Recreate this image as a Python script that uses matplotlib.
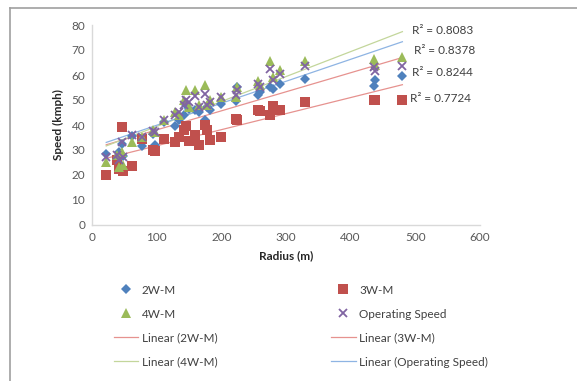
import numpy as np
import matplotlib
matplotlib.use("Agg")
import matplotlib.pyplot as plt
from matplotlib.lines import Line2D

plt.rcParams['font.family'] = ['Lato', 'DejaVu Sans']

radius = [22, 38, 42, 46, 48, 62, 78, 95, 98, 112, 128, 135, 142, 146, 150, 160,
          165, 175, 178, 182, 200, 222, 224, 257, 260, 276, 280, 290, 329, 436, 438, 480]
speed_2w = [28.5, 27, 29, 32.5, 27.5, 35.5, 31.5, 36.5, 32, 41, 39.5, 42, 44, 48, 46.5, 46,
            45, 42, 47, 46, 48.5, 49.5, 55, 52, 53, 55, 54.5, 56.5, 58.5, 55.5, 58, 59.5]
speed_3w = [20, 26, 22.5, 39, 21.5, 23.5, 34.5, 30, 29.5, 34.5, 33, 35, 38, 39.5, 33.5, 36,
            32, 40, 38, 34, 35, 42.5, 42, 46, 45.5, 44, 47.5, 46, 49, 50, 50, 50]
speed_4w = [25, 28, 23, 29, 24, 33, 35, 38, 37, 42, 45, 44, 50, 54, 47, 54,
            48, 56, 48, 50, 51, 51, 55, 57.5, 56, 65.5, 59, 62, 65.5, 66.5, 64, 67]
speed_op = [27, 28, 26, 33, 27, 36, 35, 37.5, 37, 42, 44, 45, 48, 50, 49, 51.5,
            47, 52.5, 48, 49, 51, 52, 54, 56.5, 55, 62.5, 58, 60.5, 63.5, 63, 61.5, 63.5]
r2_labels = ["R² = 0.8083", "R² = 0.8378", "R² = 0.8244", "R² = 0.7724"]
x_ticks = [0, 100, 200, 300, 400, 500, 600]
y_ticks = [0, 10, 20, 30, 40, 50, 60, 70, 80]

W, H = 577, 381
FS = 8.5
fig = plt.figure(figsize=(W / 100, H / 100), dpi=100)
ax = fig.add_axes([92 / W, 1 - 225 / H, (480 - 92) / W, (225 - 25) / H])

r = np.array(radius, dtype=float)
blue, red, green, purple = '#4F81BD', '#C0504D', '#9BBB59', '#8064A2'

h2, = ax.plot(r, speed_2w, 'D', color=blue, ms=5.5, mew=0, label='2W-M', zorder=3)
h3, = ax.plot(r, speed_3w, 's', color=red, ms=7, mew=0, label='3W-M', zorder=3)
h4, = ax.plot(r, speed_4w, '^', color=green, ms=7, mew=0, label='4W-M', zorder=3)
ho, = ax.plot(r, speed_op, 'x', color=purple, ms=6, mew=1.3, label='Operating Speed', zorder=4)

xs = np.array([r.min(), r.max()])
trend = []
for ys, col, lab in [(speed_2w, '#E6928F', 'Linear (2W-M)'),
                     (speed_3w, '#E6928F', 'Linear (3W-M)'),
                     (speed_4w, '#C3D69B', 'Linear (4W-M)'),
                     (speed_op, '#8EB4E3', 'Linear (Operating Speed)')]:
    m, b = np.polyfit(r, ys, 1)
    ln, = ax.plot(xs, m * xs + b, '-', color=col, lw=0.9, label=lab, zorder=2)
    trend.append(ln)

ax.set_xlim(0, 600)
ax.set_ylim(0, 80)
ax.set_xticks(x_ticks)
ax.set_yticks(y_ticks)
ax.tick_params(length=0, labelsize=FS, labelcolor='#595959', pad=5)
for s in ['top', 'right']:
    ax.spines[s].set_visible(False)
for s in ['left', 'bottom']:
    ax.spines[s].set_color('#D9D9D9')
    ax.spines[s].set_linewidth(1)

ax.set_xlabel('Radius (m)', fontsize=FS, fontweight='bold', color='#262626', labelpad=5)
ax.set_ylabel('Speed (kmph)', fontsize=FS, fontweight='bold', color='#262626', labelpad=5)

label_pos = [(412, 30), (414, 50), (412, 73), (410, 98)]
for (px, py), txt in zip(label_pos, r2_labels):
    fig.text(px / W, 1 - py / H, txt, fontsize=FS, color='#404040', va='center', ha='left')

handles = [h2, h4, trend[0], trend[2], h3, ho, trend[1], trend[3]]
leg = fig.legend(handles=handles, labels=[h.get_label() for h in handles], ncol=2,
                 loc='upper left', bbox_to_anchor=(103 / W, 1 - 274 / H),
                 frameon=False, fontsize=FS, labelspacing=1.1,
                 columnspacing=9.6, handlelength=2.1, handletextpad=0.3)
for t in leg.get_texts():
    t.set_color('#404040')

fig.add_artist(Line2D([10 / W, 10 / W], [0, 1 - 8 / H], color='#A0A0A0', lw=1.2,
                      transform=fig.transFigure))
fig.add_artist(Line2D([10 / W, 1], [1 - 8 / H, 1 - 8 / H], color='#A0A0A0', lw=1.2,
                      transform=fig.transFigure))

fig.savefig('out.png', dpi=100)
